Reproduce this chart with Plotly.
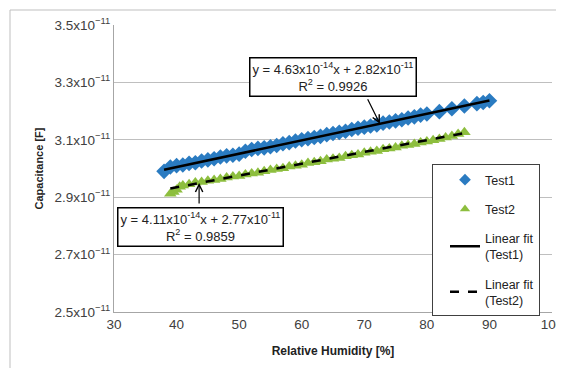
import plotly.graph_objects as go

# ---- data (capacitance in units of 1e-11 F) ----
rh_test1 = [38, 39, 40, 41, 42, 43, 44, 45, 46, 47, 48, 49, 50, 51, 52, 53, 54, 55, 56, 57,
            58, 59, 60, 61, 62, 63, 64, 65, 66, 67, 68, 69, 70, 71, 72, 73, 74, 75, 76, 77,
            78, 79, 80, 82, 84, 86, 88, 89, 90]
cap_test1 = [2.990, 3.005, 3.010, 3.012, 3.018, 3.020, 3.026, 3.030, 3.034, 3.040,
             3.044, 3.046, 3.050, 3.060, 3.066, 3.070, 3.072, 3.076, 3.080, 3.086,
             3.090, 3.096, 3.100, 3.104, 3.108, 3.112, 3.118, 3.122, 3.126, 3.130,
             3.136, 3.140, 3.144, 3.148, 3.152, 3.158, 3.162, 3.166, 3.170, 3.176,
             3.180, 3.186, 3.190, 3.198, 3.208, 3.218, 3.226, 3.230, 3.236]

rh_test2 = [39, 39.5, 40, 40.5, 41, 42, 43, 44, 45, 46, 47, 48, 49, 50, 51, 52, 53, 54, 55,
            56, 57, 58, 59, 60, 61, 62, 63, 64, 65, 66, 67, 68, 69, 70, 71, 72, 73, 74, 75,
            76, 77, 78, 79, 80, 81, 82, 83, 84, 85, 86]
cap_test2 = [2.912, 2.918, 2.926, 2.936, 2.941, 2.945, 2.951, 2.953, 2.957, 2.960,
             2.963, 2.969, 2.972, 2.974, 2.979, 2.983, 2.985, 2.990, 2.995, 2.998,
             3.001, 3.007, 3.010, 3.013, 3.019, 3.022, 3.025, 3.031, 3.034, 3.037,
             3.043, 3.046, 3.049, 3.055, 3.058, 3.061, 3.067, 3.070, 3.073, 3.079,
             3.082, 3.085, 3.091, 3.094, 3.098, 3.103, 3.108, 3.113, 3.120, 3.126]

# linear fits: slope (per %RH) and intercept, in units of 1e-11 F
fit1_slope, fit1_intercept, fit1_range = 0.00463, 2.82, [38, 90]
fit2_slope, fit2_intercept, fit2_range = 0.00411, 2.77, [39, 86]

y_ticks = [2.5, 2.7, 2.9, 3.1, 3.3, 3.5]
y_tick_labels = [f"{v}x10<sup>\u221211</sup>" for v in y_ticks]
x_ticks = [30, 40, 50, 60, 70, 80, 90, 100]

SCALE = 1e-11
FONT = "Liberation Sans"
BLUE = "#2A7BC1"
GREEN = "#8DBE3E"

# plot-area geometry on screen (used only to place boxes in paper coordinates)
PL, PR, PT, PB = 114, 552, 25, 312
def px(x):
    return (x - PL) / (PR - PL)
def py(y):
    return (PB - y) / (PB - PT)

fig = go.Figure()
fig.add_trace(go.Scatter(x=rh_test1, y=[v * SCALE for v in cap_test1], mode="markers",
                         name="Test1", showlegend=False,
                         marker=dict(symbol="diamond", size=12, color=BLUE)))
fig.add_trace(go.Scatter(x=rh_test2, y=[v * SCALE for v in cap_test2], mode="markers",
                         name="Test2", showlegend=False,
                         marker=dict(symbol="triangle-up", size=11, color=GREEN)))
fig.add_trace(go.Scatter(x=fit1_range,
                         y=[(fit1_slope * x + fit1_intercept) * SCALE for x in fit1_range],
                         mode="lines", name="Linear fit<br>(Test1)", showlegend=False,
                         line=dict(color="black", width=2.5)))
fig.add_trace(go.Scatter(x=fit2_range,
                         y=[(fit2_slope * x + fit2_intercept) * SCALE for x in fit2_range],
                         mode="lines", name="Linear fit<br>(Test2)", showlegend=False,
                         line=dict(color="black", width=2.5, dash="dash")))

# legend-only entries (no data) so legend symbols can be smaller
fig.add_trace(go.Scatter(x=[None], y=[None], mode="markers", name="Test1", legendgroup="a",
                         marker=dict(symbol="diamond", size=9, color=BLUE)))
fig.add_trace(go.Scatter(x=[None], y=[None], mode="markers", name="Test2", legendgroup="b",
                         marker=dict(symbol="triangle-up", size=9, color=GREEN)))
fig.add_trace(go.Scatter(x=[None], y=[None], mode="lines", name="Linear fit<br>(Test1)",
                         legendgroup="c", line=dict(color="black", width=2.5)))
fig.add_trace(go.Scatter(x=[None], y=[None], mode="lines", name="Linear fit<br>(Test2)",
                         legendgroup="d", line=dict(color="black", width=2.5, dash="dash")))

# equation annotations
tip1_x = 72.5
tip2_x = 43.6
fig.add_annotation(x=tip1_x, y=(fit1_slope * tip1_x + fit1_intercept) * SCALE,
                   text="", showarrow=True, arrowhead=5, arrowsize=1.2, arrowwidth=1.2,
                   arrowcolor="black", ax=-13, ay=-26, standoff=0)
fig.add_annotation(x=tip2_x, y=(fit2_slope * tip2_x + fit2_intercept) * SCALE,
                   text="", showarrow=True, arrowhead=5, arrowsize=1.2, arrowwidth=1.2,
                   arrowcolor="black", ax=0, ay=22, standoff=0)
fig.add_annotation(xref="paper", yref="paper", x=px(333), y=py(77),
                   text="y = 4.63x10<sup>-14</sup>x + 2.82x10<sup>-11</sup><br>R<sup>2</sup> = 0.9926",
                   showarrow=False, bgcolor="white", bordercolor="black", borderwidth=1.5,
                   borderpad=2, font=dict(family=FONT, size=13, color="#222"),
                   xanchor="center", yanchor="middle")
fig.add_annotation(xref="paper", yref="paper", x=px(200), y=py(227),
                   text="y = 4.11x10<sup>-14</sup>x + 2.77x10<sup>-11</sup><br>R<sup>2</sup> = 0.9859",
                   showarrow=False, bgcolor="white", bordercolor="black", borderwidth=1.5,
                   borderpad=2, font=dict(family=FONT, size=13, color="#222"),
                   xanchor="center", yanchor="middle")

# outer chart border
fig.add_shape(type="rect", xref="paper", yref="paper",
              x0=px(10), x1=px(620), y0=py(420), y1=py(10),
              line=dict(color="#bfbfbf", width=1), layer="below")

fig.update_layout(
    width=556, height=360,
    margin=dict(l=106, r=12, t=17, b=56),
    paper_bgcolor="white", plot_bgcolor="white",
    font=dict(family=FONT, size=13.5, color="#404040"),
    showlegend=True,
    legend=dict(x=px(432), y=py(164), xanchor="left", yanchor="top",
                bgcolor="white", bordercolor="#404040", borderwidth=1,
                font=dict(family=FONT, size=12.5, color="#222"),
                tracegroupgap=10, entrywidth=81, indentation=12),
    xaxis=dict(range=[30, 100], tickvals=x_ticks, showgrid=False, zeroline=False,
               showline=True, linecolor="#a6a6a6", linewidth=1, ticks="", automargin=False,
               ticklabeloverflow="allow",
               title=dict(text="<b>Relative Humidity [%]</b>", standoff=15,
                          font=dict(size=12, color="#222"))),
    yaxis=dict(range=[2.5 * SCALE, 3.5 * SCALE], tickvals=[v * SCALE for v in y_ticks],
               ticktext=y_tick_labels, showgrid=True, gridcolor="#bfbfbf", gridwidth=1,
               zeroline=False, showline=True, linecolor="#a6a6a6", linewidth=1, ticks="",
               automargin=False,
               title=dict(text="<b>Capacitance [F]</b>", standoff=8,
                          font=dict(size=11, color="#222"))),
)

fig.write_html("out.html")
